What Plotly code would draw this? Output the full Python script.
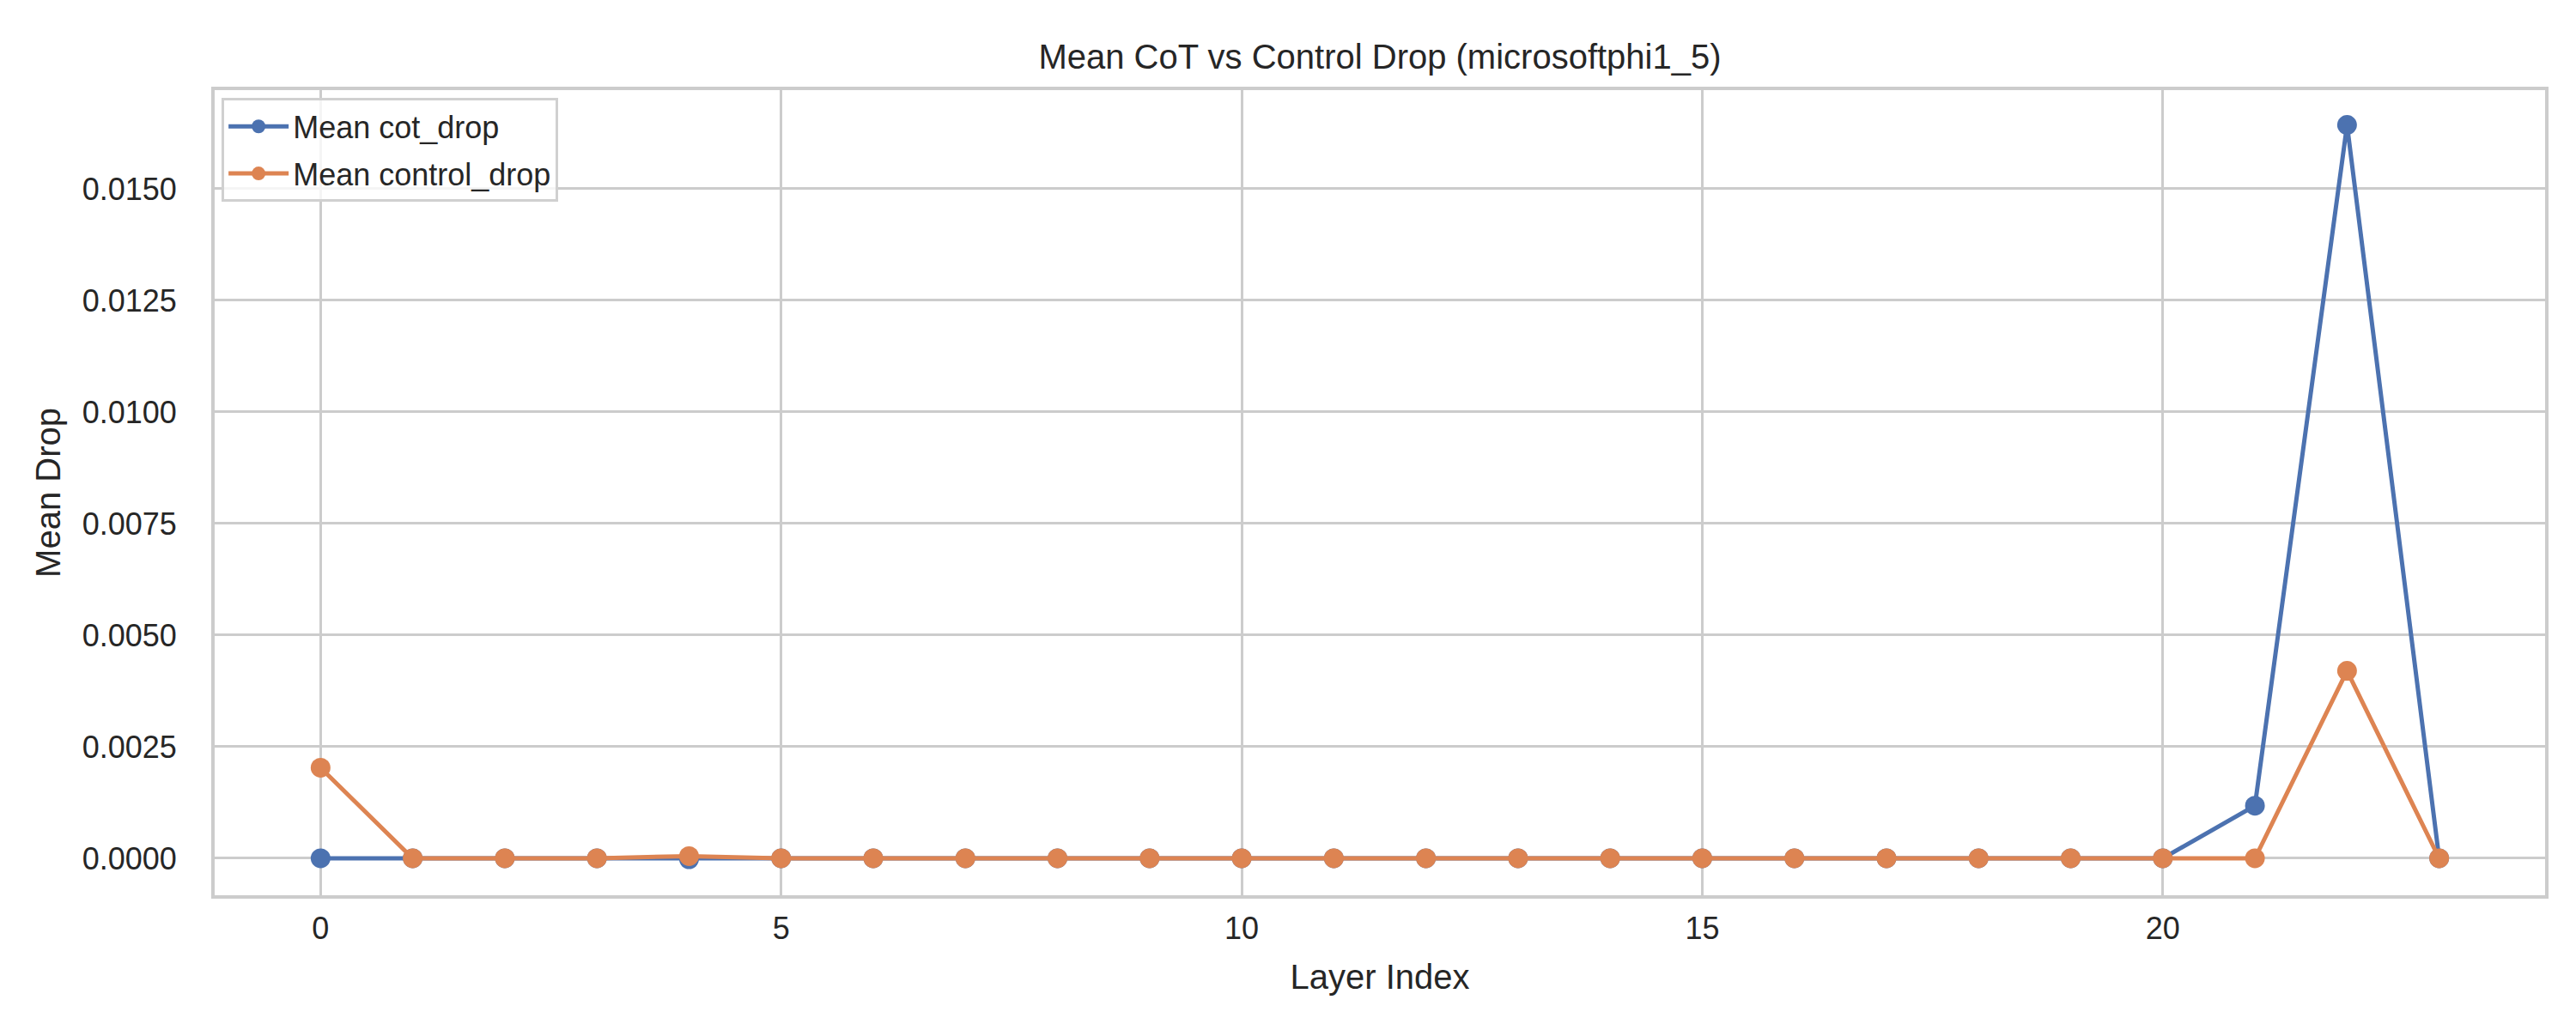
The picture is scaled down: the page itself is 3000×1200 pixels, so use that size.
import plotly.graph_objects as go

layers = list(range(24))
cot_drop = [0.0, 0.0, 0.0, 0.0, -0.00002, 0.0, 0.0, 0.0, 0.0, 0.0, 0.0, 0.0,
            0.0, 0.0, 0.0, 0.0, 0.0, 0.0, 0.0, 0.0, 0.0, 0.00118, 0.01643, 0.0]
control_drop = [0.00203, 0.0, 0.0, 0.0, 0.00005, 0.0, 0.0, 0.0, 0.0, 0.0, 0.0, 0.0,
                0.0, 0.0, 0.0, 0.0, 0.0, 0.0, 0.0, 0.0, 0.0, 0.0, 0.0042, 0.0]
series_names = ["Mean cot_drop", "Mean control_drop"]
colors = ["#4c72b0", "#dd8452"]

FONT = "Liberation Sans, Arial, sans-serif"
TXT = "#262626"

fig = go.Figure()
for i, (name, vals) in enumerate(zip(series_names, [cot_drop, control_drop])):
    fig.add_trace(go.Scatter(
        x=layers, y=vals, name=name, mode="lines+markers",
        line=dict(color=colors[i], width=5),
        marker=dict(color=colors[i], size=23),
        legendgroup=f"g{i}",
    ))

fig.update_layout(
    width=3000, height=1200,
    paper_bgcolor="white", plot_bgcolor="white",
    margin=dict(l=242, r=44, t=97, b=165),
    font=dict(family=FONT, color=TXT, size=36),
    title=dict(text="Mean CoT vs Control Drop (microsoftphi1_5)",
               x=0.5, xref="paper", xanchor="center",
               y=1 - 58 / 1200, yanchor="middle",
               font=dict(size=40, color=TXT, family=FONT)),
    legend=dict(x=0.003, y=0.99, xanchor="left", yanchor="top",
                bgcolor="rgba(255,255,255,0.8)", bordercolor="#d0d0d0", borderwidth=3,
                font=dict(size=36, color=TXT, family=FONT),
                traceorder="grouped", tracegroupgap=5, itemwidth=70),
    showlegend=True,
)

fig.update_xaxes(
    range=[-1.15, 24.15], dtick=5, tick0=0,
    showgrid=True, gridcolor="#cccccc", gridwidth=3,
    zeroline=False, showline=True, linecolor="#cccccc", linewidth=4, mirror=True,
    ticks="", ticklabelstandoff=4,
    tickfont=dict(size=36, color=TXT, family=FONT),
    title=dict(text="Layer Index", font=dict(size=40, color=TXT, family=FONT), standoff=24),
)
fig.update_yaxes(
    range=[-0.000827, 0.01721], dtick=0.0025, tick0=0, tickformat=".4f",
    showgrid=True, gridcolor="#cccccc", gridwidth=3,
    zeroline=False, showline=True, linecolor="#cccccc", linewidth=4, mirror=True,
    ticks="", ticklabelstandoff=33,
    tickfont=dict(size=36, color=TXT, family=FONT),
    title=dict(text="Mean Drop", font=dict(size=40, color=TXT, family=FONT), standoff=14),
)

fig.write_html("out.html")
